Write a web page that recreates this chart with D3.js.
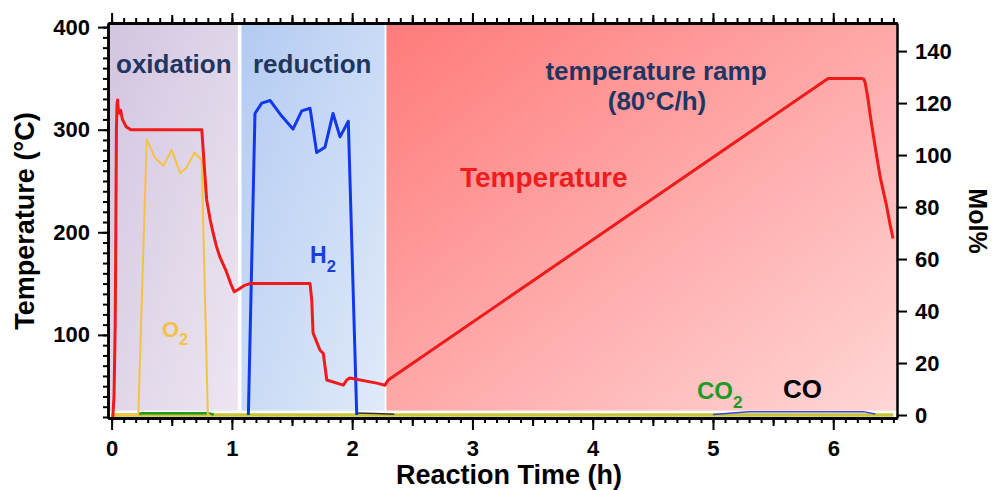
<!DOCTYPE html>
<html>
<head>
<meta charset="utf-8">
<script src="https://cdn.jsdelivr.net/npm/d3@7"></script>
<style>
  body { margin: 0; background: #fff; }
  svg { display: block; font-family: 'Liberation Sans', Arial, sans-serif; font-weight: bold; }
</style>
</head>
<body>
<svg id="chart" width="994" height="490"></svg>
<script>
// ---- data (time in h) ----
var phases = [
  { name: 'oxidation', start: -0.03, end: 1.05 },
  { name: 'reduction', start: 1.08, end: 2.27 },
  { name: 'ramp', start: 2.285, end: 6.53 }
];

// temperature, deg C (left axis)
var tempTime = [0.01, 0.02, 0.03, 0.035, 0.04, 0.045, 0.05, 0.055, 0.065, 0.075, 0.09, 0.12, 0.16, 0.75, 0.77, 0.79, 0.82, 0.843, 0.87, 0.90, 0.95, 0.99, 1.02, 1.05, 1.10, 1.15, 1.65, 1.664, 1.675, 1.733, 1.76, 1.789, 1.927, 1.955, 1.98, 2.204, 2.273, 2.30, 5.957, 6.237, 6.255, 6.265, 6.28, 6.29, 6.31, 6.33, 6.36, 6.39, 6.42, 6.445, 6.47, 6.497];
var tempVal  = [20, 40, 110, 200, 300, 325, 329, 320, 316, 319, 310, 303, 300, 300, 265, 232, 212, 200, 187, 176, 163, 150, 142, 144, 148, 150, 150, 134, 102, 85, 82, 56, 51, 56, 58, 53, 51, 56, 350, 350, 349, 346, 336, 329, 312, 297, 275, 254, 238, 225, 209, 194];

// gas concentrations, mol% (right axis)
var o2Time = [0, 0.222, 0.292, 0.36, 0.43, 0.50, 0.57, 0.62, 0.69, 0.749, 0.80, 0.82];
var o2Val  = [0, 0, 106, 99, 96, 102, 93, 95, 101, 98, 0, 0];

var h2Time = [1.137, 1.192, 1.248, 1.317, 1.414, 1.508, 1.581, 1.65, 1.705, 1.774, 1.841, 1.899, 1.968, 2.038];
var h2Val  = [0, 116, 120, 121, 115, 110, 117, 118, 101, 103, 116, 107, 113, 0];
var h2TailTime = [5.0, 5.3, 6.25, 6.35];
var h2TailVal  = [0.2, 1.3, 1.3, 0.4];

var co2Time = [0.22, 0.25, 0.80, 0.85];
var co2Val  = [0.4, 0.7, 0.7, 0.2];

var coTime = [2.04, 2.2, 2.35];
var coVal  = [0.8, 0.6, 0.3];

var baseTime = [0, 6.5];
var baseVal  = [0, 0];

var xTicks = [0, 1, 2, 3, 4, 5, 6];
var tempTicks = [100, 200, 300, 400];
var molTicks = [0, 20, 40, 60, 80, 100, 120, 140];

// ---- layout ----
var mL = 108, mR = 897, mT = 23, mB = 418;
var svg = d3.select('#chart');

var x = d3.scaleLinear().domain([-0.03, 6.53]).range([mL, mR]);
var yT = d3.scaleLinear().domain([19, 404]).range([mB, mT]);
var yM = d3.scaleLinear().domain([-1.15, 150.8]).range([mB, mT]);

var defs = svg.append('defs');
function grad(id, c0, c1) {
  var g = defs.append('linearGradient').attr('id', id)
    .attr('x1', 0).attr('y1', 0).attr('x2', 1).attr('y2', 1);
  g.append('stop').attr('offset', '0%').attr('stop-color', c0);
  g.append('stop').attr('offset', '100%').attr('stop-color', c1);
}
grad('g-oxidation', '#d2c5e0', '#ede6f1');
grad('g-reduction', '#b3cbf2', '#e0eaf9');
grad('g-ramp', '#ff7a7a', '#ffd6d6');

defs.append('clipPath').attr('id', 'plot')
  .append('rect').attr('x', mL).attr('y', mT)
  .attr('width', mR - mL).attr('height', mB - mT);

// phase backgrounds
svg.append('g').selectAll('rect')
  .data(phases)
  .enter()
  .append('rect')
  .attr('x', function(d){ return x(d.start); })
  .attr('y', mT)
  .attr('width', function(d){ return x(d.end) - x(d.start); })
  .attr('height', yM(1.7) - mT)
  .attr('fill', function(d){ return 'url(#g-' + d.name + ')'; });

// lines
var lines = svg.append('g').attr('clip-path', 'url(#plot)');

function zip(t, v) {
  return t.map(function(d, i){ return [d, v[i]]; });
}
function drawLine(t, v, yScale, color, w) {
  lines.append('path')
    .datum(zip(t, v))
    .attr('fill', 'none')
    .attr('stroke', color)
    .attr('stroke-width', w)
    .attr('stroke-linejoin', 'round')
    .attr('d', d3.line()
      .x(function(d){ return x(d[0]); })
      .y(function(d){ return yScale(d[1]); }));
}

drawLine(baseTime, baseVal, yM, '#c9c43a', 3.5);
drawLine(co2Time, co2Val, yM, '#1f9a22', 2.5);
drawLine(coTime, coVal, yM, '#333333', 1.5);
drawLine(h2TailTime, h2TailVal, yM, '#3a45d8', 1.5);
drawLine(o2Time, o2Val, yM, '#f5c244', 2);
drawLine(h2Time, h2Val, yM, '#1238ee', 3);
drawLine(tempTime, tempVal, yT, '#ef1a1a', 3);

// ---- axes ----
function styleAxis(g) {
  g.select('.domain').attr('stroke', '#000').attr('stroke-width', 2.5);
  g.selectAll('.tick line').attr('stroke', '#000').attr('stroke-width', 2);
  g.selectAll('.tick text').attr('fill', '#000')
    .style('font-size', '22px').style('font-weight', 'bold')
    .style('font-family', "'Liberation Sans', Arial, sans-serif");
}

var minorX = d3.range(0, 66).map(function(i){ return i / 10; });
var halfX = [0.5, 1.5, 2.5, 3.5, 4.5, 5.5];

// bottom
svg.append('g').attr('transform', 'translate(0,' + mB + ')')
  .call(d3.axisBottom(x).tickValues(minorX).tickSize(5).tickSizeOuter(0).tickFormat(''))
  .call(styleAxis);
svg.append('g').attr('transform', 'translate(0,' + mB + ')')
  .call(d3.axisBottom(x).tickValues(halfX).tickSize(8).tickSizeOuter(0).tickFormat(''))
  .call(styleAxis);
svg.append('g').attr('transform', 'translate(0,' + mB + ')')
  .call(d3.axisBottom(x).tickValues(xTicks).tickSize(12).tickSizeOuter(0).tickPadding(10).tickFormat(d3.format('d')))
  .call(styleAxis);

// top
svg.append('g').attr('transform', 'translate(0,' + mT + ')')
  .call(d3.axisTop(x).tickValues(minorX).tickSize(5).tickSizeOuter(0).tickFormat(''))
  .call(styleAxis);
svg.append('g').attr('transform', 'translate(0,' + mT + ')')
  .call(d3.axisTop(x).tickValues(halfX).tickSize(8).tickSizeOuter(0).tickFormat(''))
  .call(styleAxis);
svg.append('g').attr('transform', 'translate(0,' + mT + ')')
  .call(d3.axisTop(x).tickValues(xTicks).tickSize(10).tickSizeOuter(0).tickFormat(''))
  .call(styleAxis);

// left (temperature)
svg.append('g').attr('transform', 'translate(' + mL + ',0)')
  .call(d3.axisLeft(yT).tickValues(d3.range(20, 401, 10)).tickSize(5).tickSizeOuter(0).tickFormat(''))
  .call(styleAxis);
svg.append('g').attr('transform', 'translate(' + mL + ',0)')
  .call(d3.axisLeft(yT).tickValues(tempTicks).tickSize(10).tickSizeOuter(0).tickPadding(8).tickFormat(d3.format('d')))
  .call(styleAxis);

// right (mol%)
svg.append('g').attr('transform', 'translate(' + mR + ',0)')
  .call(d3.axisRight(yM).tickValues(molTicks).tickSize(10).tickSizeOuter(0).tickPadding(8).tickFormat(d3.format('d')))
  .call(styleAxis);

// ---- axis titles ----
svg.append('text')
  .attr('transform', 'translate(34,221) rotate(-90)')
  .attr('text-anchor', 'middle')
  .style('font-size', '27px')
  .text('Temperature (°C)');

svg.append('text')
  .attr('transform', 'translate(969,221) rotate(90)')
  .attr('text-anchor', 'middle')
  .style('font-size', '25px')
  .text('Mol%');

svg.append('text')
  .attr('x', 509).attr('y', 484)
  .attr('text-anchor', 'middle')
  .style('font-size', '27px')
  .text('Reaction Time (h)');

// ---- annotations ----
var navy = '#1f3562';
svg.append('text').attr('x', 116).attr('y', 73).attr('fill', navy)
  .style('font-size', '26px').text('oxidation');
svg.append('text').attr('x', 253).attr('y', 73).attr('fill', navy)
  .style('font-size', '26px').text('reduction');
svg.append('text').attr('x', 656).attr('y', 80).attr('fill', navy)
  .attr('text-anchor', 'middle').style('font-size', '26px').text('temperature ramp');
svg.append('text').attr('x', 657).attr('y', 110).attr('fill', navy)
  .attr('text-anchor', 'middle').style('font-size', '26px').text('(80°C/h)');
svg.append('text').attr('x', 460).attr('y', 187).attr('fill', '#ee1c1c')
  .style('font-size', '28px').text('Temperature');

function chem(xp, yp, main, sub, color, size) {
  var t = svg.append('text').attr('x', xp).attr('y', yp).attr('fill', color)
    .style('font-size', size + 'px');
  t.append('tspan').text(main);
  if (sub) {
    t.append('tspan').attr('dy', size * 0.38).style('font-size', (size * 0.72) + 'px').text(sub);
  }
}
chem(310, 263, 'H', '2', '#1b3fd6', 23);
chem(162, 337, 'O', '2', '#f3c244', 22);
chem(697, 399, 'CO', '2', '#209a22', 24);
chem(783, 398, 'CO', null, '#000', 26);
</script>
</body>
</html>
